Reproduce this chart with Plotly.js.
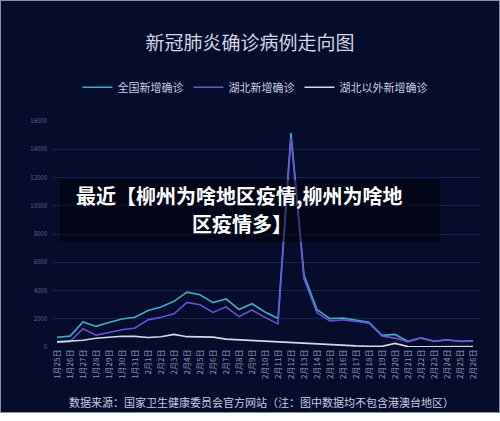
<!DOCTYPE html>
<html>
<head>
<meta charset="utf-8">
<script src="https://cdn.plot.ly/plotly-3.0.1.min.js"></script>
<style>
  html, body { margin: 0; padding: 0; background: #ffffff; }
  #chart { width: 500px; height: 413px; box-sizing: border-box; border: 1px solid #8a8fa6; background: #050c2c; }
</style>
</head>
<body>
<div id="chart"></div>
<script>
// daily new confirmed cases, 1/25 - 2/26
const dates = [
  "1月25日", "1月26日", "1月27日", "1月28日", "1月29日", "1月30日", "1月31日",
  "2月1日", "2月2日", "2月3日", "2月4日", "2月5日", "2月6日", "2月7日", "2月8日",
  "2月9日", "2月10日", "2月11日", "2月12日", "2月13日", "2月14日", "2月15日",
  "2月16日", "2月17日", "2月18日", "2月19日", "2月20日", "2月21日", "2月22日",
  "2月23日", "2月24日", "2月25日", "2月26日"
];
const national = [688, 769, 1771, 1459, 1737, 1982, 2102, 2590, 2829, 3235, 3887, 3694, 3143, 3399, 2656, 3062, 2478, 2015, 15152, 5090, 2641, 2009, 2048, 1886, 1749, 820, 889, 397, 648, 409, 508, 406, 433];
const hubei = [323, 371, 1291, 840, 1032, 1220, 1347, 1921, 2103, 2345, 3156, 2987, 2447, 2841, 2147, 2618, 2097, 1638, 14840, 4823, 2420, 1843, 1933, 1807, 1693, 775, 631, 366, 630, 398, 499, 401, 409];
const outsideHubei = [365, 398, 480, 619, 705, 762, 755, 669, 726, 890, 731, 707, 696, 558, 509, 444, 381, 377, 312, 267, 221, 166, 115, 79, 56, 45, 258, 31, 18, 11, 9, 5, 24];

const FONT = "'Noto Sans CJK SC', 'Noto Sans', sans-serif";

const traces = [
  { x: dates, y: national, mode: "lines", name: "全国新增确诊", line: { color: "#3aaec4", width: 1.6 } },
  { x: dates, y: hubei, mode: "lines", name: "湖北新增确诊", line: { color: "#6a52d8", width: 1.6 } },
  { x: dates, y: outsideHubei, mode: "lines", name: "湖北以外新增确诊", line: { color: "#d6d8e6", width: 1.6 } },
];

const layout = {
  width: 498,
  height: 411,
  paper_bgcolor: "#050c2c",
  plot_bgcolor: "#050c2c",
  font: { family: FONT, color: "#c8cbe0" },
  margin: { l: 51, r: 19, t: 120, b: 65 },
  title: {
    text: "新冠肺炎确诊病例走向图",
    font: { family: FONT, size: 19, color: "#d4d6e2" },
    x: 0.5, xanchor: "center",
    y: 0.898, yanchor: "middle", yref: "container",
  },
  showlegend: true,
  legend: {
    orientation: "h",
    x: 0.51, xanchor: "center", xref: "container",
    y: 0.79, yanchor: "middle", yref: "container",
    font: { family: FONT, size: 11, color: "#c8cbe0" },
    bgcolor: "rgba(0,0,0,0)",
    itemwidth: 30,
  },
  xaxis: {
    type: "category",
    range: [-0.385, 32.54],
    showgrid: false,
    zeroline: false,
    showline: false,
    tickangle: -90,
    tickfont: { family: FONT, size: 8, color: "#8f96b8" },
    ticks: "",
    fixedrange: true,
  },
  yaxis: {
    range: [0, 16000],
    dtick: 2000,
    tickformat: "d",
    gridcolor: "#17214a",
    gridwidth: 1,
    zeroline: false,
    showline: false,
    ticks: "",
    tickfont: { family: FONT, size: 6, color: "#5a6490" },
    ticklabelstandoff: 4,
    fixedrange: true,
  },
  // dark banner behind the overlaid headline
  shapes: [
    {
      type: "rect", xref: "paper", yref: "paper",
      x0: 0.019, x1: 0.907, y0: 0.465, y1: 0.739,
      fillcolor: "rgba(0,0,0,0.45)", line: { width: 0 }, layer: "above",
    },
  ],
  annotations: [
    {
      text: "数据来源：国家卫生健康委员会官方网站（注：图中数据均不包含港澳台地区）",
      xref: "paper", yref: "paper",
      x: 0.49, y: -0.245, xanchor: "center", yanchor: "middle",
      showarrow: false,
      font: { family: FONT, size: 11, color: "#c8cbe0" },
    },
    {
      text: "<b>最近【柳州为啥地区疫情,柳州为啥地</b>",
      xref: "paper", yref: "paper",
      x: 0.437, y: 0.672, xanchor: "center", yanchor: "middle",
      showarrow: false,
      font: { family: FONT, size: 20, color: "#ffffff" },
    },
    {
      text: "<b>区疫情多】</b>",
      xref: "paper", yref: "paper",
      x: 0.444, y: 0.547, xanchor: "center", yanchor: "middle",
      showarrow: false,
      font: { family: FONT, size: 20, color: "#ffffff" },
    },
  ],
};

Plotly.newPlot("chart", traces, layout, { displayModeBar: false, staticPlot: true });
</script>
</body>
</html>
